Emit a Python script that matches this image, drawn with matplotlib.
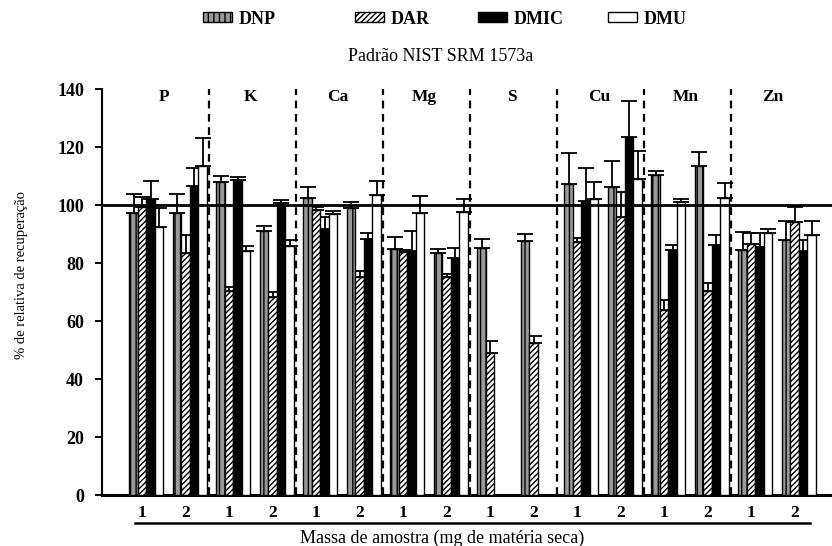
import numpy as np
import matplotlib
matplotlib.use("Agg")
import matplotlib.pyplot as plt
from matplotlib.patches import Patch

plt.rcParams.update({"font.family": "Liberation Serif", "hatch.linewidth": 1.0})

ELEMENTS = ["P", "K", "Ca", "Mg", "S", "Cu", "Mn", "Zn"]
MASSES = ["1", "2"]
SERIES = ["DNP", "DAR", "DMIC", "DMU"]

# % relative recovery, one value per (element, mass) slot
DNP = [97.2, 97.2, 108.2, 91.1, 102.4, 99.0, 84.8, 83.4,
       85.4, 87.8, 107.4, 106.4, 110.5, 113.7, 84.6, 88.0]
DNP_ERR = [6.6, 6.6, 1.8, 1.9, 3.8, 2.3, 4.4, 1.5,
           2.9, 2.3, 10.5, 9.0, 1.4, 4.8, 6.3, 6.6]
DAR = [99.5, 83.4, 70.5, 68.2, 98.5, 75.4, 83.8, 75.4,
       49.1, 52.4, 87.2, 95.9, 63.9, 70.5, 86.6, 94.1]
DAR_ERR = [3.5, 6.3, 1.2, 1.9, 1.0, 1.9, 0.8, 0.8,
           4.2, 2.5, 1.4, 8.6, 3.4, 2.8, 3.7, 5.4]
DMIC = [102.1, 106.7, 108.7, 100.9, 91.7, 88.3, 84.2, 81.7,
        np.nan, np.nan, 101.6, 123.5, 84.6, 86.2, 85.5, 84.3]
DMIC_ERR = [6.4, 6.3, 0.9, 0.9, 4.2, 2.3, 7.0, 3.7,
            np.nan, np.nan, 11.2, 12.5, 1.7, 3.5, 5.1, 3.7]
DMU = [92.6, 113.6, 84.3, 86.1, 97.0, 103.6, 97.5, 97.8,
       np.nan, np.nan, 102.2, 109.0, 101.3, 102.4, 90.6, 89.7]
DMU_ERR = [6.6, 9.5, 1.8, 1.9, 1.1, 4.9, 5.7, 4.3,
           np.nan, np.nan, 5.7, 9.7, 0.9, 5.2, 1.2, 4.9]

values = [DNP, DAR, DMIC, DMU]
errors = [DNP_ERR, DAR_ERR, DMIC_ERR, DMU_ERR]
styles = [dict(facecolor="0.6", hatch="|||"),
          dict(facecolor="white", hatch="//////"),
          dict(facecolor="black", hatch=None),
          dict(facecolor="white", hatch=None)]

fig = plt.figure(figsize=(8.32, 5.46), dpi=100)
ax = fig.add_axes([0.1226, 0.0934, 0.8774, 0.7429])

x = np.arange(len(ELEMENTS) * len(MASSES))
w = 0.195
for k, (vals, errs, st) in enumerate(zip(values, errors, styles)):
    v = np.array(vals, dtype=float)
    e = np.array(errs, dtype=float)
    ok = ~np.isnan(v)
    pos = (x + (k - 1.5) * w)[ok]
    ax.errorbar(pos, v[ok], yerr=[np.zeros(ok.sum()), e[ok]], fmt="none",
                ecolor="black", elinewidth=1.3, capsize=5.5, capthick=1.3,
                zorder=2)
    ax.bar(pos, v[ok], w, edgecolor="black", linewidth=1.0, zorder=3, **st)

ax.axhline(100, color="black", lw=2.0, zorder=4)
for j in range(len(ELEMENTS) - 1):
    ax.axvline(2 * j + 1.45, color="black", lw=1.6, ls=(0, (3.5, 2.5)),
               zorder=1)
for j, el in enumerate(ELEMENTS):
    ax.text(2 * j + 0.4, 137.3, el, ha="center", va="center",
            fontsize=12.5, fontweight="bold")

ax.set_xlim(-1.018, 15.76)
ax.set_ylim(0, 140)
ax.set_yticks(np.arange(0, 141, 20))
ax.set_yticklabels([str(t) for t in range(0, 141, 20)],
                   fontsize=13, fontweight="bold")
ax.set_xticks(x - 0.1)
ax.set_xticklabels(MASSES * len(ELEMENTS), fontsize=12.5, fontweight="bold")
ax.tick_params(axis="x", length=0, pad=7)
ax.tick_params(axis="y", length=5, width=1.4, direction="out", pad=8)
ax.spines[["top", "right"]].set_visible(False)
ax.spines["left"].set_linewidth(1.5)
ax.spines["bottom"].set_linewidth(2.2)

ax.set_ylabel("% de relativa de recuperação", fontsize=10.5)
ax.yaxis.set_label_coords(-0.101, 0.542)

# underline and axis caption below the mass labels
fig.add_artist(plt.Line2D([135 / 832, 810 / 832], [0.0427, 0.0427],
                          color="black", lw=1.8))
fig.text(0.532, 0.0147, "Massa de amostra (mg de matéria seca)",
         ha="center", va="center", fontsize=13)
fig.text(0.529, 0.896, "Padrão NIST SRM 1573a", ha="center", va="center",
         fontsize=13)

legend_x = [203 / 832, 355 / 832, 478 / 832, 608 / 832]
for name, st, lx in zip(SERIES, styles, legend_x):
    h = Patch(edgecolor="black", linewidth=1.0, **st)
    fig.legend(handles=[h], labels=[name], loc="center left",
               bbox_to_anchor=(lx, 0.965), frameon=False,
               handlelength=1.6, handleheight=0.5, handletextpad=0.4,
               borderpad=0, borderaxespad=0,
               prop={"family": "Liberation Serif", "weight": "bold",
                     "size": 13})

fig.savefig("out.png", dpi=100)
